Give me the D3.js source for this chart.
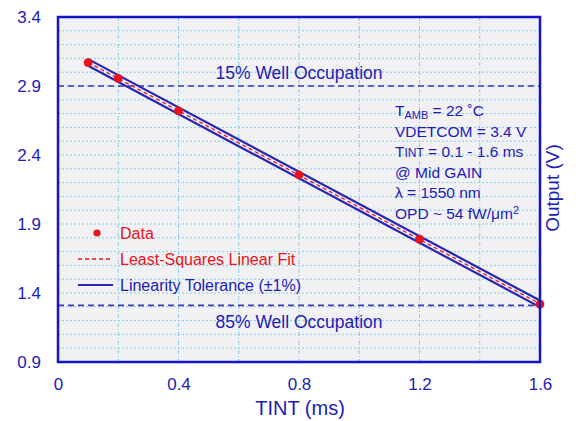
<!DOCTYPE html>
<html><head><meta charset="utf-8">
<script src="https://cdn.jsdelivr.net/npm/d3@7"></script>
<style>body{margin:0;background:#fff}svg{display:block}text{font-family:"Liberation Sans",Arial,Helvetica,sans-serif}</style>
</head><body><svg id="c" width="576" height="421"></svg>
<script>
const tint = [0.1, 0.2, 0.4, 0.8, 1.2, 1.6];
const output = [3.07, 2.955, 2.72, 2.255, 1.79, 1.32];
const fitEnds = [0.1, 1.6];
const tolerance = 0.024;
const xTicks = [0, 0.4, 0.8, 1.2, 1.6];
const yTicks = [0.9, 1.4, 1.9, 2.4, 2.9, 3.4];
const wellLevels = [2.9, 1.31];
const wellLabels = ["15% Well Occupation", "85% Well Occupation"];
const notes = ["T|AMB| = 22 ˚C", "VDETCOM = 3.4 V", "T|INT| = 0.1 - 1.6 ms", "@ Mid GAIN", "λ = 1550 nm", "OPD ~ 54 fW/μm²"];

const blue = "#1c1cb8", red = "#e8141c";
const FF = '"Liberation Sans",Arial,sans-serif';
const svg = d3.select("#c");
const L = 58, R = 540, T = 17, B = 362;
const x = d3.scaleLinear().domain([0, 1.6]).range([L, R]);
const y = d3.scaleLinear().domain([0.9, 3.4]).range([B, T]);

svg.append("rect").attr("x", L).attr("y", T).attr("width", R - L).attr("height", B - T).attr("fill", "#f1f1f3");

// grid
const gx = d3.range(0.2, 1.6, 0.2), gy = d3.range(1.0, 3.4, 0.1);
svg.append("g").selectAll("line").data(gy).join("line")
  .attr("x1", L).attr("x2", R).attr("y1", d => y(d)).attr("y2", d => y(d))
  .attr("stroke", "#88cde6").attr("stroke-width", 1).attr("stroke-dasharray", "2,2");
svg.append("g").selectAll("line").data(gx).join("line")
  .attr("y1", T).attr("y2", B).attr("x1", d => x(d)).attr("x2", d => x(d))
  .attr("stroke", "#88cde6").attr("stroke-width", 1).attr("stroke-dasharray", "4,2,1,2");

// well occupation lines
svg.append("g").selectAll("line").data(wellLevels).join("line")
  .attr("x1", L).attr("x2", R).attr("y1", d => y(d)).attr("y2", d => y(d))
  .attr("stroke", "#3a3ab4").attr("stroke-width", 1.6).attr("stroke-dasharray", "6,4");
svg.append("text").attr("x", 299).attr("y", y(wellLevels[0]) - 7).attr("text-anchor", "middle")
  .attr("font-size", 17.5).attr("fill", blue).text(wellLabels[0]);
svg.append("text").attr("x", 299).attr("y", y(wellLevels[1]) + 23).attr("text-anchor", "middle")
  .attr("font-size", 17.5).attr("fill", blue).text(wellLabels[1]);

// fit
const mx = d3.mean(tint), my = d3.mean(output);
const slope = d3.sum(tint.map((t, i) => (t - mx) * (output[i] - my))) / d3.sum(tint.map(t => (t - mx) ** 2));
const icpt = my - slope * mx;
const f = t => icpt + slope * t;
const line = d3.line().x(d => x(d[0])).y(d => y(d[1]));
[tolerance, -tolerance].forEach(o => {
  svg.append("path").attr("d", line(fitEnds.map(t => [t, f(t) + o])))
    .attr("stroke", "#2626b4").attr("stroke-width", 2.2).attr("fill", "none");
});
svg.append("path").attr("d", line(fitEnds.map(t => [t, f(t)])))
  .attr("stroke", red).attr("stroke-width", 1.3).attr("stroke-dasharray", "4,3").attr("fill", "none");

// data
svg.append("g").selectAll("circle").data(tint).join("circle")
  .attr("cx", d => x(d)).attr("cy", (d, i) => y(output[i])).attr("r", 4.4).attr("fill", red);

// border
svg.append("rect").attr("x", L).attr("y", T).attr("width", R - L).attr("height", B - T)
  .attr("fill", "none").attr("stroke", "#1414c8").attr("stroke-width", 2.5);

// axes tick labels
const xa = svg.append("g").attr("transform", `translate(0,${B + 28})`)
  .call(d3.axisBottom(x).tickValues(xTicks).tickSize(0).tickFormat(d3.format("")));
xa.select(".domain").remove();
xa.selectAll("text").attr("font-size", 17).attr("fill", blue).attr("y", 0).attr("dy", 0).style("font-family", FF);
const ya = svg.append("g").attr("transform", `translate(${L - 14},0)`)
  .call(d3.axisLeft(y).tickValues(yTicks).tickSize(0).tickFormat(d3.format(".1f")));
ya.select(".domain").remove();
ya.selectAll("text").attr("font-size", 17).attr("fill", blue).style("font-family", FF);

svg.append("text").attr("x", 300).attr("y", 415).attr("text-anchor", "middle").attr("font-size", 20).attr("fill", blue).text("TINT (ms)");
svg.append("text").attr("transform", "translate(559,188) rotate(-90)").attr("text-anchor", "middle")
  .attr("font-size", 19).attr("fill", blue).text("Output (V)");

// notes
notes.forEach((s, i) => {
  const t = svg.append("text").attr("x", 395).attr("y", 116 + i * 20.5).attr("font-size", 15.5).attr("fill", blue);
  const parts = s.split("|");
  if (parts.length === 3) {
    t.append("tspan").text(parts[0]);
    if (parts[1] === "AMB") t.append("tspan").attr("font-size", 11).attr("dy", 3).text(parts[1]);
    else t.append("tspan").attr("font-size", 12).text(parts[1]);
    t.append("tspan").attr("dy", parts[1] === "AMB" ? -3 : 0).text(parts[2]);
  } else if (s.endsWith("²")) {
    t.append("tspan").text(s.slice(0, -1));
    t.append("tspan").attr("font-size", 11).attr("dy", -5).text("2");
  } else t.text(s);
});

// legend
svg.append("circle").attr("cx", 97).attr("cy", 233).attr("r", 3.6).attr("fill", red);
svg.append("text").attr("x", 120).attr("y", 239).attr("font-size", 16).attr("fill", red).text("Data");
svg.append("line").attr("x1", 78).attr("x2", 113).attr("y1", 259).attr("y2", 259)
  .attr("stroke", red).attr("stroke-width", 1.3).attr("stroke-dasharray", "4,3");
svg.append("text").attr("x", 120).attr("y", 265).attr("font-size", 16).attr("fill", red).text("Least-Squares Linear Fit");
svg.append("line").attr("x1", 78).attr("x2", 113).attr("y1", 285).attr("y2", 285)
  .attr("stroke", "#2626b4").attr("stroke-width", 2);
svg.append("text").attr("x", 120).attr("y", 291).attr("font-size", 16).attr("fill", blue).text("Linearity Tolerance (±1%)");
</script></body></html>
